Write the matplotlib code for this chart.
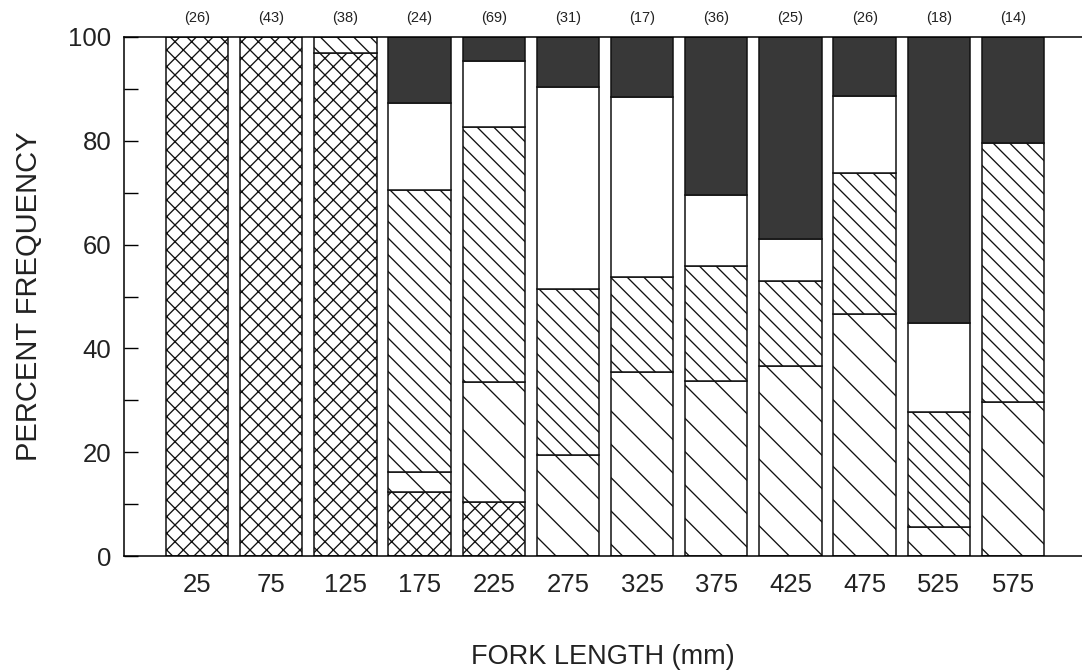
import matplotlib
matplotlib.use("Agg")
import matplotlib.pyplot as plt
import numpy as np

fork_length = [25, 75, 125, 175, 225, 275, 325, 375, 425, 475, 525, 575]
counts = [26, 43, 38, 24, 69, 31, 17, 36, 25, 26, 18, 14]

cross = [100.0, 100.0, 97.0, 12.4, 10.4, 0, 0, 0, 0, 0, 0, 0]
wide = [0, 0, 0, 3.8, 23.2, 19.5, 35.5, 33.8, 36.7, 46.7, 5.6, 29.7]
dense = [0, 0, 3.0, 54.3, 49.0, 32.0, 18.2, 22.0, 16.2, 27.0, 22.2, 49.8]
white = [0, 0, 0, 16.8, 12.8, 38.8, 34.7, 13.7, 8.1, 14.9, 17.0, 0]
black = [0, 0, 0, 12.7, 4.6, 9.7, 11.6, 30.5, 39.0, 11.4, 55.2, 20.5]

plt.rcParams['font.family'] = ['Liberation Sans', 'DejaVu Sans']
plt.rcParams['hatch.color'] = '#111111'
plt.rcParams['hatch.linewidth'] = 0.95

fig = plt.figure(figsize=(10.82, 6.70), dpi=100)
ax = fig.add_axes([124 / 1082, 1 - 556 / 670, 1 - 124 / 1082, (556 - 37) / 670])

series = [
    (cross, 'white', 'xx'),
    (wide, 'white', '\\'),
    (dense, 'white', '\\\\'),
    (white, 'white', None),
    (black, '#383838', None),
]

x = np.array(fork_length, dtype=float)
bottom = np.zeros(len(x))
for vals, fc, hatch in series:
    v = np.array(vals, dtype=float)
    mask = v > 0
    ax.bar(x[mask], v[mask], width=42, bottom=bottom[mask], color=fc,
           edgecolor='#111111', linewidth=1.1, hatch=hatch, zorder=2)
    bottom += v

for xi, n in zip(fork_length, counts):
    ax.text(xi, 103.6, f"({n})", ha='center', va='center', fontsize=10.5,
            color='#222222', clip_on=False)

ax.set_xlim(-24.2, 621.5)
ax.set_ylim(0, 100)
ax.set_xticks(fork_length)
ax.set_xticklabels([str(v) for v in fork_length], fontsize=18.5, color='#222222')
ax.set_yticks([0, 20, 40, 60, 80, 100])
ax.set_yticks([10, 30, 50, 70, 90], minor=True)
ax.tick_params(axis='y', which='both', direction='in', length=10, width=1.0,
               labelsize=18.5, pad=9, labelcolor='#222222')
ax.tick_params(axis='x', length=0, pad=12)

for s in ['left', 'top', 'bottom']:
    ax.spines[s].set_linewidth(1.1)
ax.spines['right'].set_visible(False)

ax.set_xlabel("FORK LENGTH (mm)", fontsize=19.5, labelpad=34, color='#222222')
ax.set_ylabel("PERCENT FREQUENCY", fontsize=21, labelpad=18, color='#222222')

fig.savefig("out.png", dpi=100)
